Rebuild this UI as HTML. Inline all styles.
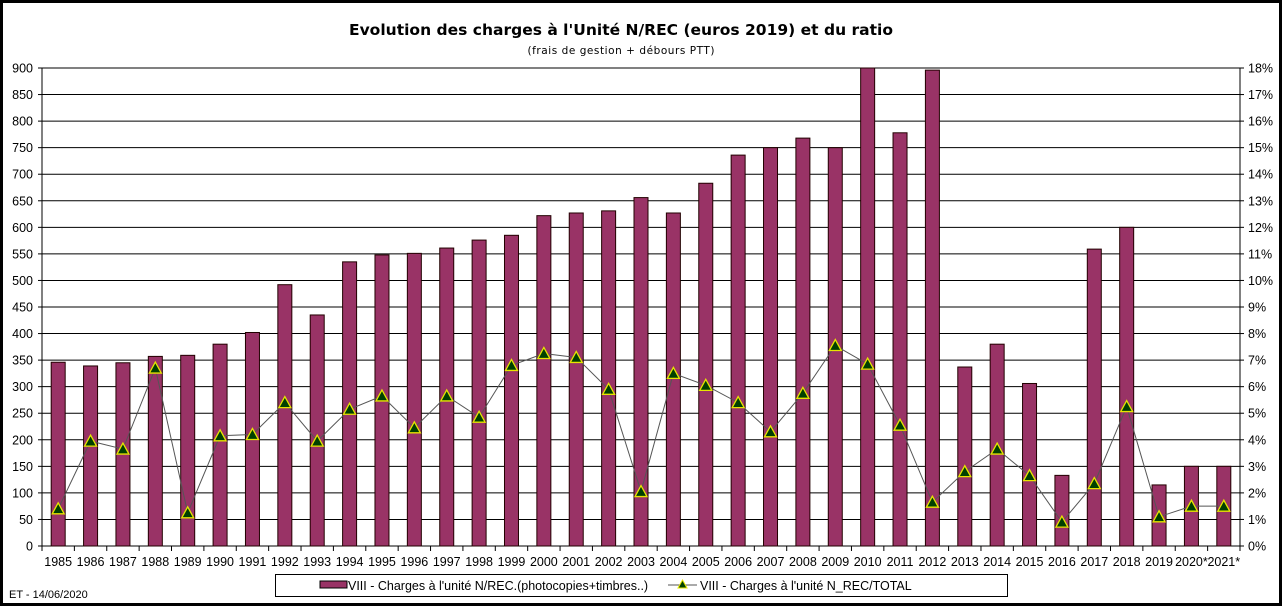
<!DOCTYPE html>
<html><head><meta charset="utf-8"><style>
body{margin:0;background:#fff}
svg{display:block;font-family:"Liberation Sans",Arial,sans-serif}
</style></head><body>
<svg id="c" width="1284" height="608" xmlns="http://www.w3.org/2000/svg">
<rect x="1.5" y="1.5" width="1279" height="603" fill="#fff" stroke="#000" stroke-width="3"/>
<text x="621" y="35" text-anchor="middle" font-size="15.5" font-weight="bold" font-family="DejaVu Sans, sans-serif" textLength="544">Evolution des charges à l'Unité N/REC (euros 2019) et du ratio</text>
<text x="621" y="54" text-anchor="middle" font-size="10.5" font-family="DejaVu Sans, sans-serif" textLength="187">(frais de gestion + débours PTT)</text>
<text x="9" y="598" font-size="11">ET -  14/06/2020</text>
<rect x="275.5" y="574.5" width="732" height="22" fill="#fff" stroke="#000"/>
<rect x="320" y="581" width="27" height="7" fill="#993366" stroke="#000"/>
<text x="348" y="590" font-size="12.5">VIII - Charges  à l'unité N/REC.(photocopies+timbres..)</text>
<line x1="668" y1="585" x2="697" y2="585" stroke="#555"/>
<polygon points="682.5,580 678,588 687,588" fill="#004000" stroke="#e6e600"/>
<text x="700" y="590" font-size="12.5">VIII - Charges  à l'unité N_REC/TOTAL</text>
<g id="g"></g>
</svg>
<script>
var bars=[346,339,345,357,359,380,402,492,435,535,548,551,561,576,585,622,627,631,656,627,683,736,750,768,750,905,778,896,337,380,306,133,559,600,115,150,150];
var r=[1.4,3.95,3.65,6.7,1.25,4.15,4.2,5.4,3.95,5.15,5.65,4.45,5.65,4.85,6.8,7.25,7.1,5.9,2.05,6.5,6.05,5.4,4.3,5.75,7.55,6.85,4.55,1.65,2.8,3.65,2.65,0.9,2.35,5.25,1.1,1.5,1.5];
var labs=[];for(var i=1985;i<=2019;i++)labs.push(''+i);labs.push('2020*','2021*');
var L=42,R=1240,T=68,B=546,n=37,w=(R-L)/n,s='';
for(var k=0;k<=18;k++){var y=B-(B-T)*k/18;
 s+='<line x1="'+L+'" y1="'+y+'" x2="'+R+'" y2="'+y+'" stroke="#000"/>';
 s+='<line x1="'+(R)+'" y1="'+y+'" x2="'+(R+4)+'" y2="'+y+'" stroke="#000"/>';
 s+='<text x="'+(R+8)+'" y="'+(y+4.5)+'" font-size="12.5">'+k+'%</text>';
 s+='<line x1="'+(L-4)+'" y1="'+y+'" x2="'+L+'" y2="'+y+'" stroke="#000"/>';
 s+='<text x="'+(L-9)+'" y="'+(y+4.5)+'" font-size="12.5" text-anchor="end">'+(k*50)+'</text>';}
for(var i=0;i<n;i++){var cx=L+w*(i+.5),v=Math.min(bars[i],900),h=v/900*(B-T);
 s+='<rect x="'+(cx-7)+'" y="'+(B-h)+'" width="14" height="'+h+'" fill="#993366" stroke="#200" stroke-width="1"/>';
 s+='<line x1="'+(L+w*i)+'" y1="'+B+'" x2="'+(L+w*i)+'" y2="'+(B+5)+'" stroke="#000"/>';
 s+='<text x="'+cx+'" y="'+(B+20)+'" font-size="12.5" text-anchor="middle">'+labs[i]+'</text>';}
s+='<line x1="'+R+'" y1="'+B+'" x2="'+R+'" y2="'+(B+5)+'" stroke="#000"/>';
s+='<line x1="'+L+'" y1="'+T+'" x2="'+L+'" y2="'+B+'" stroke="#000"/>';
s+='<line x1="'+R+'" y1="'+T+'" x2="'+R+'" y2="'+B+'" stroke="#000"/>';
var pts=[];for(var i=0;i<n;i++)pts.push((L+w*(i+.5))+','+(B-r[i]/18*(B-T)));
s+='<polyline points="'+pts.join(' ')+'" fill="none" stroke="#555" stroke-width="1"/>';
for(var i=0;i<n;i++){var cx=L+w*(i+.5),y=B-r[i]/18*(B-T);
 s+='<polygon points="'+cx+','+(y-6)+' '+(cx-6)+','+(y+5)+' '+(cx+6)+','+(y+5)+'" fill="#004000" stroke="#e6e600" stroke-width="1.3"/>';}
document.getElementById('g').innerHTML=s;
</script>
</body></html>
